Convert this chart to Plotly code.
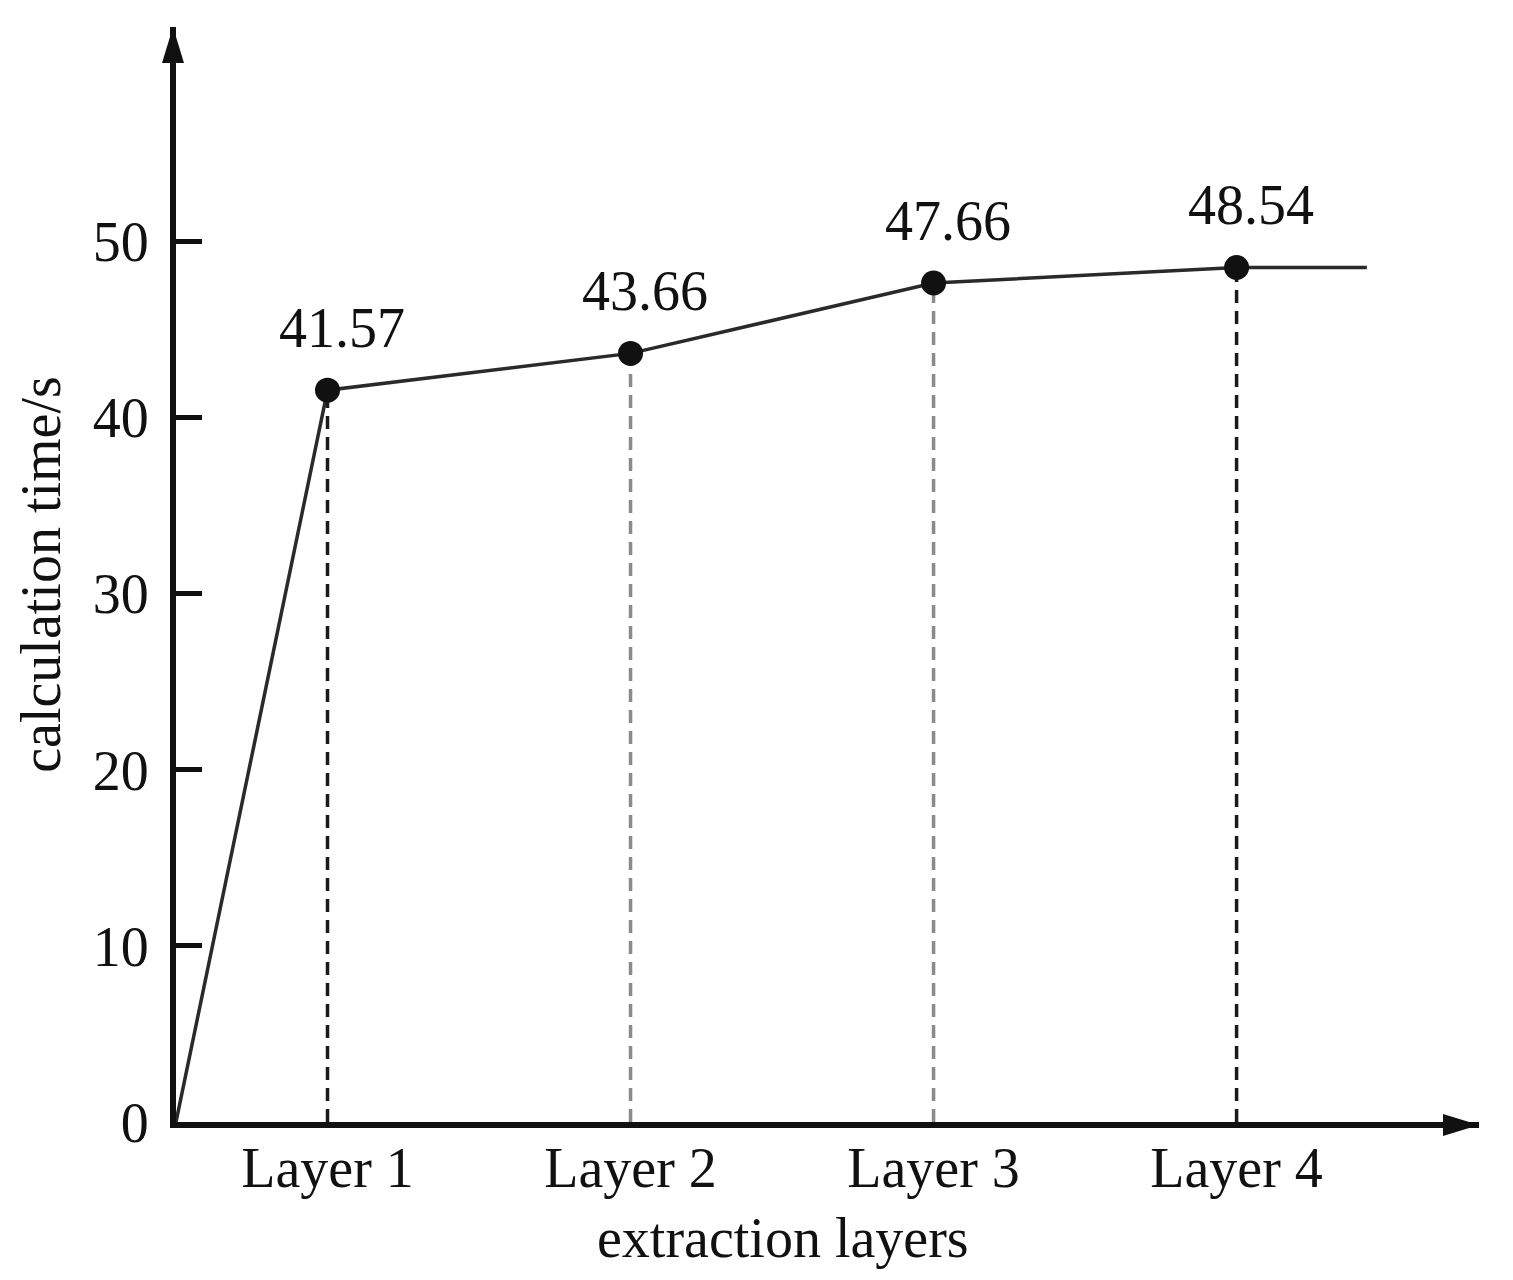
import plotly.graph_objects as go

# ---- data ----
layers = ["Layer 1", "Layer 2", "Layer 3", "Layer 4"]
layer_x = [1, 2, 3, 4]
calc_time = [41.57, 43.66, 47.66, 48.54]
origin_x = 0.5
tail_x = 4.43
y_ticks = [0, 10, 20, 30, 40, 50]
x_title = "extraction layers"
y_title = "calculation time/s"

# ---- style ----
FONT = "Liberation Serif, Times New Roman, serif"
FS = 56
drop_colors = ["#1a1a1a", "#8a8a8a", "#8a8a8a", "#1a1a1a"]

fig = go.Figure()

# dashed drop lines
for xi, yi, c in zip(layer_x, calc_time, drop_colors):
    fig.add_trace(go.Scatter(
        x=[xi, xi], y=[0, yi], mode="lines",
        line=dict(color=c, width=3.5, dash="13px,8px"),
        hoverinfo="skip", showlegend=False))

# main polyline
line_x = [origin_x] + layer_x + [tail_x]
line_y = [0] + calc_time + [calc_time[-1]]
fig.add_trace(go.Scatter(
    x=line_x, y=line_y, mode="lines",
    line=dict(color="#2a2a2a", width=3.5), showlegend=False))

# markers
fig.add_trace(go.Scatter(
    x=layer_x, y=calc_time, mode="markers",
    marker=dict(color="#111111", size=25), showlegend=False))

# value labels
for xi, yi in zip(layer_x, calc_time):
    fig.add_annotation(x=xi, y=yi, text=f"{yi:.2f}", showarrow=False,
                       xshift=14, yshift=62,
                       font=dict(family=FONT, size=FS, color="#111111"))

# x-axis title (placed slightly left of plot centre, as in the reference)
fig.add_annotation(xref="paper", yref="paper", x=0.466, y=0,
                   yshift=-116, xanchor="center", yanchor="middle",
                   text=x_title, showarrow=False,
                   font=dict(family=FONT, size=FS, color="#111111"))

# arrowheads
fig.add_shape(type="path", xref="paper", yref="paper",
              xsizemode="pixel", ysizemode="pixel", xanchor=0, yanchor=1,
              path="M-3,0 L-14,-36 L8,-36 Z",
              fillcolor="#111111", line=dict(width=0))
fig.add_shape(type="path", xref="paper", yref="paper",
              xsizemode="pixel", ysizemode="pixel", xanchor=1, yanchor=0,
              path="M0,-3 L-36,8 L-36,-14 Z",
              fillcolor="#111111", line=dict(width=0))

fig.update_layout(
    width=1497, height=1264,
    margin=dict(l=168, r=26, t=19, b=150),
    plot_bgcolor="white", paper_bgcolor="white",
    font=dict(family=FONT, size=FS, color="#111111"),
    xaxis=dict(
        range=[origin_x, 4.8],
        tickvals=layer_x, ticktext=layers,
        showgrid=False, zeroline=False,
        showline=True, linewidth=6, linecolor="#111111",
        ticks="", ticklabelstandoff=-8,
        tickfont=dict(family=FONT, size=FS, color="#111111"),
    ),
    yaxis=dict(
        range=[0, 62.2],
        tickvals=y_ticks,
        showgrid=False, zeroline=False,
        showline=True, linewidth=6, linecolor="#111111",
        ticks="inside", ticklen=26, tickwidth=5, tickcolor="#111111",
        ticklabelstandoff=10,
        tickfont=dict(family=FONT, size=FS, color="#111111"),
        title=dict(text=y_title, standoff=16,
                   font=dict(family=FONT, size=FS, color="#111111")),
    ),
)

fig.write_html("out.html")
